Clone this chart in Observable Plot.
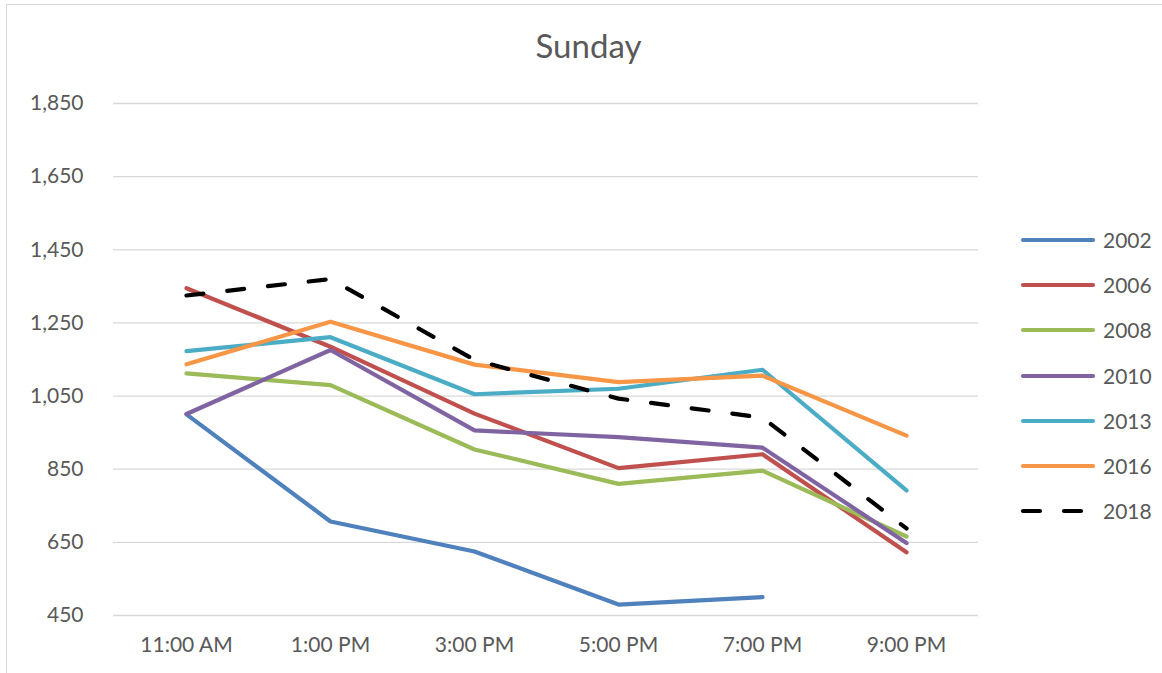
<!DOCTYPE html>
<html><head><meta charset="utf-8">
<script src="https://cdn.jsdelivr.net/npm/d3@7"></script>
<script src="https://cdn.jsdelivr.net/npm/@observablehq/plot@0.6"></script>
<style>
body{margin:0;background:#fff;font-family:Lato,"Noto Sans",sans-serif;overflow:hidden;}
#wrap{position:relative;width:1162px;height:673px;overflow:hidden;}
#frame{position:absolute;left:6px;top:4px;width:1200px;height:720px;border:1.5px solid #d9d9d9;box-sizing:border-box;pointer-events:none;}
#title{height:80px;box-sizing:border-box;padding-top:25px;line-height:40px;text-align:center;font-size:33px;color:#595959;padding-left:15px;}
#legend{position:absolute;left:1020px;top:228px;}
.li{height:45.2px;display:flex;align-items:flex-start;font-size:21px;color:#595959;}
.li svg{margin-right:5px;margin-top:4px;}
.li span{line-height:24px;}
</style></head>
<body><div id="wrap"><div id="frame"></div><div id="title">Sunday</div><div id="chart"></div><div id="legend"></div></div>
<script>
const times = ["11:00 AM","1:00 PM","3:00 PM","5:00 PM","7:00 PM","9:00 PM"];
const years = ["2002","2006","2008","2010","2013","2016","2018"];
const colors = ["#4f81bd","#c0504d","#9bbb59","#8064a2","#4bacc6","#f79646","#000000"];
const v2002 = [1000, 707, 625, 480, 500, null];
const v2006 = [1345, 1185, 1002, 853, 891, 623];
const v2008 = [1112, 1080, 904, 810, 846, 666];
const v2010 = [1001, 1176, 956, 938, 909, 648];
const v2013 = [1173, 1211, 1055, 1070, 1122, 792];
const v2016 = [1137, 1253, 1136, 1088, 1106, 942];
const v2018 = [1325, 1370, 1149, 1043, 991, 688];
const yTicks = [450, 650, 850, 1050, 1250, 1450, 1650, 1850];

const seriesVals = [v2002, v2006, v2008, v2010, v2013, v2016, v2018];
const marks = [
  Plot.ruleY(yTicks, {stroke:"#d9d9d9", strokeWidth:1.3})
];
seriesVals.forEach((vals, i) => {
  const data = times.map((t, j) => ({t, v: vals[j]}));
  marks.push(Plot.line(data, {
    x: "t", y: "v", stroke: colors[i], strokeWidth: 4.2,
    strokeLinecap: "round", strokeLinejoin: "round",
    strokeDasharray: years[i] === "2018" ? "17,24" : null
  }));
});
marks.push(Plot.axisY({ticks: yTicks, tickSize: 0, tickPadding: 30, tickFormat: d3.format(","), fontSize: 21, color:"#595959"}));
marks.push(Plot.axisX({tickSize: 0, tickPadding: 22, fontSize: 21, color:"#595959"}));

const chart = Plot.plot({
  width: 1162, height: 593,
  marginLeft: 113, marginRight: 184, marginTop: 23, marginBottom: 58,
  style: {fontFamily: "Lato, 'Noto Sans', sans-serif", color: "#595959", background: "transparent", overflow: "visible"},
  x: {type: "point", domain: times, padding: 0.5, label: null},
  y: {domain: [450, 1850], label: null},
  marks
});
document.getElementById("chart").appendChild(chart);

const leg = document.getElementById("legend");
years.forEach((y, i) => {
  const dash = y === "2018" ? 'stroke-dasharray="17,24"' : '';
  leg.insertAdjacentHTML("beforeend",
    `<div class="li"><svg width="78" height="16"><line x1="3" y1="8" x2="73" y2="8" stroke="${colors[i]}" stroke-width="4.2" stroke-linecap="round" ${dash}/></svg><span>${y}</span></div>`);
});
</script></body></html>
